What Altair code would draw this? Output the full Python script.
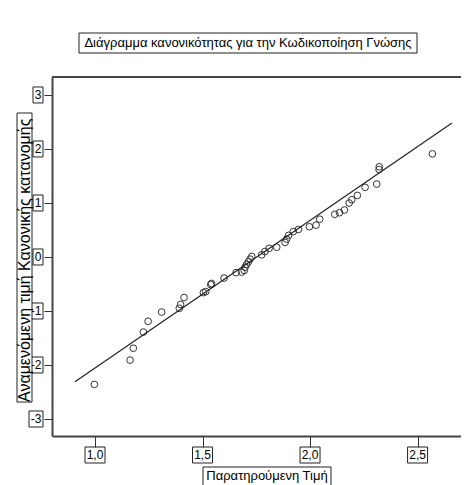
import altair as alt
import pandas as pd

observed = [0.997, 1.163, 1.178, 1.225, 1.247, 1.31, 1.392, 1.398, 1.414, 1.504,
            1.515, 1.538, 1.542, 1.60, 1.656, 1.682, 1.694, 1.698, 1.705, 1.713,
            1.721, 1.729, 1.775, 1.79, 1.81, 1.845, 1.884, 1.891, 1.90, 1.922,
            1.946, 1.997, 2.028, 2.045, 2.115, 2.137, 2.16, 2.182, 2.194, 2.22,
            2.256, 2.31, 2.321, 2.322, 2.569]
expected = [-2.36, -1.91, -1.69, -1.39, -1.19, -1.02, -0.95, -0.88, -0.75, -0.66,
            -0.64, -0.51, -0.49, -0.39, -0.29, -0.28, -0.25, -0.19, -0.14, -0.09,
            -0.04, 0.01, 0.04, 0.10, 0.16, 0.18, 0.27, 0.33, 0.40, 0.47,
            0.51, 0.56, 0.59, 0.70, 0.79, 0.82, 0.87, 1.00, 1.06, 1.14,
            1.29, 1.35, 1.62, 1.67, 1.91]

line_x = [0.907, 2.66]
line_y = [-2.31, 2.48]

x_ticks = [1.0, 1.5, 2.0, 2.5]
x_tick_labels = ["1,0", "1,5", "2,0", "2,5"]
y_ticks_pos = [0, 1, 2, 3]
y_tick_labels_pos = ["0", "1", "2", "3"]
y_ticks_neg = [-3, -2, -1]
y_tick_labels_neg = ["-3", "-2", "-1"]

title_text = "Διάγραμμα κανονικότητας για την Κωδικοποίηση Γνώσης"
x_title = "Παρατηρούμενη Τιμή"
y_title = "Αναμενόμενη τιμή Κανονικής κατανομής"

W, H = 409, 359
FONT = "Liberation Sans"
INK = "#222222"

xs = alt.Scale(domain=[0.8, 2.702], nice=False, zero=False)
ys = alt.Scale(domain=[-3.315, 3.333], nice=False, zero=False)

pts_df = pd.DataFrame({"x": observed, "y": expected})
line_df = pd.DataFrame({"x": line_x, "y": line_y})
xt_df = pd.DataFrame({"x": x_ticks, "lab": x_tick_labels})
ytp_df = pd.DataFrame({"y": y_ticks_pos, "lab": y_tick_labels_pos})
ytn_df = pd.DataFrame({"y": y_ticks_neg, "lab": y_tick_labels_neg})
one = pd.DataFrame({"k": [0]})

x_axis = alt.Axis(values=x_ticks, labels=False, title=None, grid=False,
                  tickSize=11, tickColor="#333", tickWidth=1,
                  domainColor="#444", domainWidth=2)
y_axis = alt.Axis(values=y_ticks_neg + y_ticks_pos, labels=False, title=None,
                  grid=False, tickSize=8, tickColor="#333", tickWidth=1,
                  domainColor="#444", domainWidth=2)


def X(field="x"):
    return alt.X(f"{field}:Q", scale=xs, axis=x_axis, title=None)


def Y(field="y"):
    return alt.Y(f"{field}:Q", scale=ys, axis=y_axis, title=None)


points = alt.Chart(pts_df).mark_point(
    filled=False, color="#333", size=45, strokeWidth=1, opacity=1
).encode(x=X(), y=Y())

line = alt.Chart(line_df).mark_line(color=INK, strokeWidth=1.2).encode(x=X(), y=Y())

top_rule = alt.Chart(one).mark_rule(color="#444", strokeWidth=2).encode(
    x=alt.value(0), x2=alt.value(W), y=alt.value(0)
)

# x tick labels with boxes
xt_box = alt.Chart(xt_df).mark_point(
    shape="M-10,-8H10V8H-10Z", size=4, filled=False, color=INK, strokeWidth=1, opacity=1
).encode(x=X(), y=alt.value(H + 19))
xt_text = alt.Chart(xt_df).mark_text(
    font=FONT, fontSize=12, baseline="middle", align="center", color="black"
).encode(x=X(), y=alt.value(H + 19), text="lab:N")

# y tick labels with boxes
ytp_box = alt.Chart(ytp_df).mark_point(
    shape="M-5,-8H5V8H-5Z", size=4, filled=False, color=INK, strokeWidth=1, opacity=1
).encode(x=alt.value(-14), y=Y())
ytn_box = alt.Chart(ytn_df).mark_point(
    shape="M-7,-8H7V8H-7Z", size=4, filled=False, color=INK, strokeWidth=1, opacity=1
).encode(x=alt.value(-16), y=Y())
ytp_text = alt.Chart(ytp_df).mark_text(
    font=FONT, fontSize=12, baseline="middle", align="right", color="black"
).encode(x=alt.value(-10.5), y=Y(), text="lab:N")
ytn_text = alt.Chart(ytn_df).mark_text(
    font=FONT, fontSize=12, baseline="middle", align="right", color="black"
).encode(x=alt.value(-10.5), y=Y(), text="lab:N")

# title with box
title_box = alt.Chart(one).mark_rect(fill="white", stroke=INK, strokeWidth=1).encode(
    x=alt.value(27), x2=alt.value(365), y=alt.value(-44), y2=alt.value(-24)
)
title_mark = alt.Chart(one).mark_text(
    font=FONT, fontSize=13, baseline="middle", align="center", color="black",
    text=title_text
).encode(x=alt.value(196), y=alt.value(-34))

# x title with box
xtitle_box = alt.Chart(one).mark_rect(fill="white", stroke=INK, strokeWidth=1).encode(
    x=alt.value(151), x2=alt.value(279), y=alt.value(H + 31), y2=alt.value(H + 53)
)
xtitle_mark = alt.Chart(one).mark_text(
    font=FONT, fontSize=13, baseline="middle", align="center", color="black",
    text=x_title
).encode(x=alt.value(215), y=alt.value(H + 40))

# y title with box
ytitle_box = alt.Chart(one).mark_rect(fill="white", stroke=INK, strokeWidth=1).encode(
    x=alt.value(-35), x2=alt.value(-20), y=alt.value(36), y2=alt.value(325)
)
ytitle_mark = alt.Chart(one).mark_text(
    font=FONT, fontSize=16, baseline="middle", align="left", angle=270,
    color="black", text=y_title
).encode(x=alt.value(-27.5), y=alt.value(325))

chart = alt.layer(
    points, line, top_rule,
    xt_box, xt_text,
    ytp_box, ytn_box, ytp_text, ytn_text,
    ytitle_box, ytitle_mark,
    title_box, title_mark,
    xtitle_box, xtitle_mark,
).properties(
    width=W, height=H,
    autosize=alt.AutoSizeParams(type="none"),
    padding={"left": 44, "top": 69, "right": 0, "bottom": 49},
).configure_view(stroke=None).configure(background="white")

chart.save("out.html", embed_options={"renderer": "svg", "actions": False})
